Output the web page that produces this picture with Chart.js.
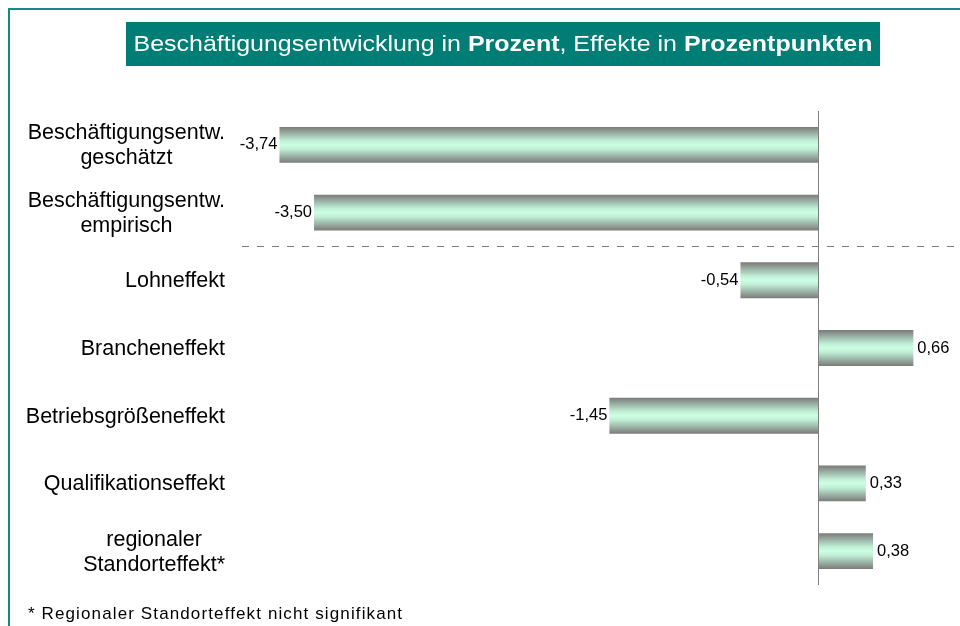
<!DOCTYPE html>
<html>
<head>
<meta charset="utf-8">
<script src="https://cdn.jsdelivr.net/npm/chart.js@4/dist/chart.umd.min.js"></script>
<style>
  html, body { margin: 0; padding: 0; background: #fff; overflow: hidden; }
  #wrap { position: relative; width: 960px; height: 626px; }
</style>
</head>
<body>
<div id="wrap"><canvas id="c" width="960" height="626"></canvas></div>
<script>
// ---- data ----
const categories = [
  ["Beschäftigungsentw.", "geschätzt"],
  ["Beschäftigungsentw.", "empirisch"],
  "Lohneffekt",
  "Brancheneffekt",
  "Betriebsgrößeneffekt",
  "Qualifikationseffekt",
  ["regionaler", "Standorteffekt*"]
];
const values = [-3.74, -3.50, -0.54, 0.66, -1.45, 0.33, 0.38];
const titleParts = [
  ["Beschäftigungsentwicklung in ", false],
  ["Prozent", true],
  [", Effekte in ", false],
  ["Prozentpunkten", true]
];
const footnote = "* Regionaler Standorteffekt nicht signifikant";
const separatorAfterIndex = 1; // dashed line between empirical and effects

const FONT = "'Liberation Sans', Arial, sans-serif";
const fmt = v => v.toFixed(2).replace('.', ',');

function barGradient(ctx) {
  const ch = ctx.chart;
  const ys = ch.scales.y;
  if (!ys || ctx.type !== 'data' || !ys.height) return '#ccffe6';
  const c = ys.getPixelForValue(ctx.dataIndex);
  const half = (ys.height / categories.length) * 0.53 / 2;
  const g = ch.ctx.createLinearGradient(0, c - half, 0, c + half);
  g.addColorStop(0, '#7a7a7a');
  g.addColorStop(0.38, '#bfeed5');
  g.addColorStop(0.5, '#ccffe4');
  g.addColorStop(0.62, '#bfeed5');
  g.addColorStop(1, '#7a7a7a');
  return g;
}

const decor = {
  id: 'decor',
  beforeDraw(chart) {
    const ctx = chart.ctx;
    ctx.save();
    // frame
    ctx.strokeStyle = '#168a80';
    ctx.lineWidth = 2;
    ctx.beginPath();
    ctx.moveTo(9, chart.height);
    ctx.lineTo(9, 9);
    ctx.lineTo(chart.width, 9);
    ctx.stroke();
    // title box
    ctx.fillStyle = '#007d75';
    ctx.fillRect(126, 22, 754, 44);
    const size = 22.5;
    let total = 0;
    const widths = titleParts.map(([t, b]) => {
      ctx.font = (b ? 'bold ' : '') + size + 'px ' + FONT;
      const w = ctx.measureText(t).width;
      total += w;
      return w;
    });
    const targetW = 739;
    const sx = targetW / total;
    ctx.save();
    ctx.translate(503 - targetW / 2, 45);
    ctx.scale(sx, 1);
    let x = 0;
    ctx.fillStyle = '#ffffff';
    ctx.textBaseline = 'middle';
    ctx.textAlign = 'left';
    titleParts.forEach(([t, b], i) => {
      ctx.font = (b ? 'bold ' : '') + size + 'px ' + FONT;
      ctx.fillText(t, x, 0);
      x += widths[i];
    });
    ctx.restore();
    // footnote
    ctx.fillStyle = '#000';
    ctx.font = '17px ' + FONT;
    ctx.textBaseline = 'middle';
    ctx.textAlign = 'left';
    const fw = ctx.measureText(footnote).width;
    const ls = Math.max(0, (374 - fw) / (footnote.length - 1));
    ctx.letterSpacing = ls.toFixed(2) + 'px';
    ctx.fillText(footnote, 28, 614);
    ctx.letterSpacing = '0px';
    ctx.restore();
  },
  afterDatasetsDraw(chart) {
    const ctx = chart.ctx;
    const xs = chart.scales.x, ys = chart.scales.y;
    const area = chart.chartArea;
    ctx.save();
    // zero line
    const x0 = Math.round(xs.getPixelForValue(0)) + 0.5;
    ctx.strokeStyle = '#808080';
    ctx.lineWidth = 1;
    ctx.beginPath();
    ctx.moveTo(x0, area.top);
    ctx.lineTo(x0, area.bottom);
    ctx.stroke();
    // dashed separator
    const ySep = Math.round((ys.getPixelForValue(separatorAfterIndex) + ys.getPixelForValue(separatorAfterIndex + 1)) / 2) + 0.5;
    ctx.setLineDash([7, 8]);
    ctx.beginPath();
    ctx.moveTo(area.left, ySep);
    ctx.lineTo(chart.width, ySep);
    ctx.stroke();
    ctx.setLineDash([]);
    // value labels
    ctx.fillStyle = '#000';
    ctx.font = '16.5px ' + FONT;
    ctx.textBaseline = 'middle';
    const meta = chart.getDatasetMeta(0);
    meta.data.forEach((el, i) => {
      const v = values[i];
      if (v < 0) { ctx.textAlign = 'right'; ctx.fillText(fmt(v), el.x - 2, el.y); }
      else { ctx.textAlign = 'left'; ctx.fillText(fmt(v), el.x + 4, el.y); }
    });
    // category labels
    ctx.font = '21.5px ' + FONT;
    const rightX = area.left - 17;
    const lh = 25;
    categories.forEach((lab, i) => {
      const lines = Array.isArray(lab) ? lab : [lab];
      const cy = ys.getPixelForValue(i);
      const maxW = Math.max(...lines.map(l => ctx.measureText(l).width));
      const cx = rightX - maxW / 2;
      ctx.textAlign = 'center';
      lines.forEach((l, k) => {
        ctx.fillText(l, cx, cy + 1 + (k - (lines.length - 1) / 2) * lh);
      });
    });
    ctx.restore();
  }
};

new Chart(document.getElementById('c'), {
  type: 'bar',
  data: {
    labels: categories,
    datasets: [{
      data: values,
      backgroundColor: barGradient,
      borderWidth: 0,
      categoryPercentage: 1,
      barPercentage: 0.53
    }]
  },
  options: {
    indexAxis: 'y',
    responsive: false,
    animation: false,
    layout: { padding: { left: 242, right: 2, top: 111, bottom: 41 } },
    scales: {
      x: { display: false, min: -4, max: 0.97 },
      y: { display: false }
    },
    plugins: { legend: { display: false }, tooltip: { enabled: false }, title: { display: false } }
  },
  plugins: [decor]
});
</script>
</body>
</html>
